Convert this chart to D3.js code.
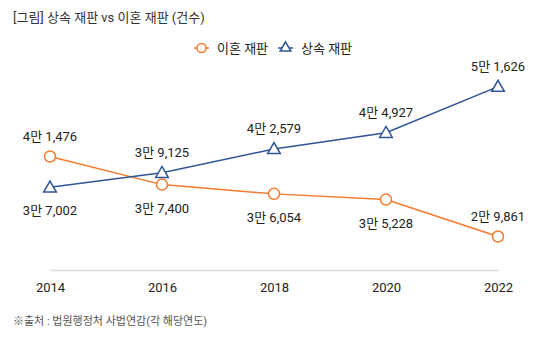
<!DOCTYPE html>
<html><head><meta charset="utf-8">
<script src="https://cdn.jsdelivr.net/npm/d3@7"></script>
<style>
html,body{margin:0;padding:0;background:#fff;}
svg{display:block;font-family:Roboto,"Noto Sans CJK KR",sans-serif;}
</style></head>
<body><svg id="chart" width="543" height="341"></svg>
<script>
const years = [2014, 2016, 2018, 2020, 2022];
const divorce = [41476, 37400, 36054, 35228, 29861];
const inherit = [37002, 39125, 42579, 44927, 51626];
const divorceLabels = ["4만 1,476", "3만 7,400", "3만 6,054", "3만 5,228", "2만 9,861"];
const inheritLabels = ["3만 7,002", "3만 9,125", "4만 2,579", "4만 4,927", "5만 1,626"];
const divorcePlace = ["above", "below", "below", "below", "above"];
const inheritPlace = ["below", "above", "above", "above", "above"];
const seriesNames = ["이혼 재판", "상속 재판"];
const title = "[그림] 상속 재판 vs 이혼 재판 (건수)";
const source = "※출처 : 법원행정처 사법연감(각 해당연도)";

const orange = "#f47a2c", blue = "#2f5597";
const svg = d3.select("#chart");
const x = d3.scaleLinear().domain([2014, 2022]).range([50, 498]);
const y = d3.scaleLinear().domain([25000, 55000]).range([270, 63.4]);

svg.append("text").attr("x", 13).attr("y", 22).attr("font-size", 13).attr("fill", "#333").text(title);

// axis
const ax = svg.append("g").attr("transform", "translate(0,270)")
  .call(d3.axisBottom(x).tickValues(years).tickFormat(d3.format("d")).tickSize(0).tickPadding(13));
ax.select(".domain").attr("stroke", "#d9d9d9").attr("stroke-width", 1.5);
ax.selectAll("text").attr("font-size", 13).attr("fill", "#222").attr("font-family", "Roboto,'Noto Sans CJK KR',sans-serif");

const line = d3.line().x((d, i) => x(years[i])).y(d => y(d));

function drawSeries(vals, color, shape, labels, place) {
  svg.append("path").datum(vals).attr("d", line).attr("fill", "none")
    .attr("stroke", color).attr("stroke-width", 1.5);
  const g = svg.append("g");
  vals.forEach((v, i) => {
    const cx = x(years[i]), cy = y(v);
    if (shape === "circle") {
      g.append("circle").attr("cx", cx).attr("cy", cy).attr("r", 5.5)
        .attr("fill", "#fff").attr("stroke", color).attr("stroke-width", 1.5);
    } else {
      g.append("path").attr("d", d3.symbol(d3.symbolTriangle, 70)())
        .attr("transform", `translate(${cx},${cy + 1})`)
        .attr("fill", "#fff").attr("stroke", color).attr("stroke-width", 1.5);
    }
    g.append("text").attr("x", cx).attr("y", place[i] === "above" ? cy - 16 : cy + 28)
      .attr("text-anchor", "middle").attr("font-size", 13).attr("fill", "#222").text(labels[i]);
  });
}
drawSeries(divorce, orange, "circle", divorceLabels, divorcePlace);
drawSeries(inherit, blue, "triangle", inheritLabels, inheritPlace);

// legend
const leg = svg.append("g");
const legItems = [{name: seriesNames[0], color: orange, shape: "circle", x: 194},
                  {name: seriesNames[1], color: blue, shape: "triangle", x: 278}];
legItems.forEach(it => {
  leg.append("line").attr("x1", it.x).attr("x2", it.x + 15).attr("y1", 48).attr("y2", 48)
    .attr("stroke", it.color).attr("stroke-width", 1.5);
  if (it.shape === "circle") {
    leg.append("circle").attr("cx", it.x + 7.5).attr("cy", 48).attr("r", 4.5)
      .attr("fill", "#fff").attr("stroke", it.color).attr("stroke-width", 1.5);
  } else {
    leg.append("path").attr("d", d3.symbol(d3.symbolTriangle, 50)())
      .attr("transform", `translate(${it.x + 7.5},48)`)
      .attr("fill", "#fff").attr("stroke", it.color).attr("stroke-width", 1.5);
  }
  leg.append("text").attr("x", it.x + 23).attr("y", 52.5).attr("font-size", 13).attr("fill", "#222").text(it.name);
});

svg.append("text").attr("x", 13).attr("y", 325).attr("font-size", 11).attr("fill", "#555").text(source);
</script></body></html>
